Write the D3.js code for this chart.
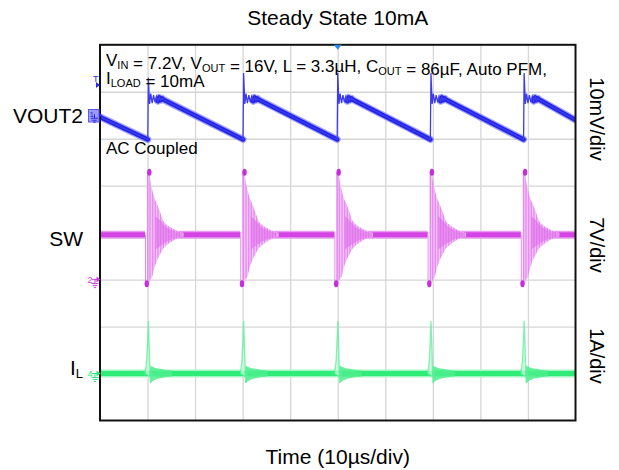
<!DOCTYPE html>
<html><head><meta charset="utf-8">
<script src="https://cdn.jsdelivr.net/npm/d3@7"></script>
<style>body{margin:0;background:#fff}svg{display:block;font-family:"Liberation Sans",Arial,sans-serif}</style>
</head><body><svg id="c" width="619" height="470"></svg>
<script>
// ---------- data ----------
const chartTitle = "Steady State 10mA";
const xTitle = "Time (10µs/div)";
const timeDomain = [0, 100];                 // µs (10 µs/div)
const xGridTimes = [10, 20, 30, 40, 50, 60, 70, 80, 90];
const yGridDivs = [1, 2, 3, 4, 5, 6, 7];
const channelNames = ["VOUT2", "SW", "I"];
const channelScaleLabels = ["10mV/div", "7V/div", "1A/div"];
const channelOffsetDiv = [6.5, 3, 1];        // ground / reference marker, in divisions
const channelPerDiv = [10, 7, 1];            // mV, V, A per division

// switching events (µs)
const eventTimes = [10.17, 30.2, 50.0, 69.6, 89.2];

// VOUT2 (mV, AC coupled)
const voutStart = -0.36, voutEnd = -1.0;
const voutPeaks = [8.0, 9.0, 9.0, 9.0, 9.0];
const voutRingDt = [-0.12, 0, 0.25, 0.5, 0.8, 1.1, 1.4, 1.7, 2.0, 2.3, 2.6, 2.9, 3.2];
const voutRingMv = [-5.16, null, 2.4, 4.6, 2.6, 4.3, 2.8, 4.0, 3.0, 3.8, 3.2, 3.6, 3.3];
const voutThickFromDt = 1.9;                 // ringing drawn thin before this

// SW (V)
const swBase = 6.7, swLow = -0.6, swHigh = 16.0;
const swEnvDt = [-0.3, 0.2, 0.4, 0.75, 1.2, 1.8, 2.5, 3.1, 4.0, 5.2, 6.3, 7.4];
const swEnvUp = [16.0, 16.0, 14.8, 13.6, 12.3, 11.3, 10.0, 8.8, 8.1, 7.6, 7.2, 7.0];
const swEnvLo = [-0.6, -0.5, 0.0, 0.3, 1.6, 2.8, 3.8, 4.6, 5.2, 5.8, 6.2, 6.4];
const swCoreDt = [1.5, 2.5, 3.5, 5.0, 7.0];
const swCoreUp = [9.5, 8.8, 8.0, 7.4, 7.0];
const swCoreLo = [4.5, 5.0, 5.5, 6.0, 6.4];

// IL (A)
const ilSpikeDt = [-0.7, -0.35, -0.1, 0.0, 0.15, 0.35, 0.45, 0.6, 0.8];
const ilSpikeA  = [0, 0.25, 0.8, 1.12, 0.7, 0.0, -0.2, 0.12, -0.1];
const ilEnvDt = [0.4, 0.8, 1.5, 2.5, 3.5, 5.0];
const ilEnvUp = [0.17, 0.15, 0.12, 0.10, 0.08, 0.065];
const ilEnvLo = [-0.22, -0.17, -0.13, -0.10, -0.08, -0.065];

// ---------- drawing ----------
const svg = d3.select("#c");
const P = {l: 100, r: 575.5, t: 44.8, b: 420.5};
const x = d3.scaleLinear().domain(timeDomain).range([P.l, P.r]);
const yDiv = d3.scaleLinear().domain([0, 8]).range([P.b, P.t]);
const yCh = channelOffsetDiv.map((o, i) =>
  d3.scaleLinear().domain([-o * channelPerDiv[i], (8 - o) * channelPerDiv[i]]).range([P.b, P.t]));
const [yV, yS, yI] = yCh;

const defs = svg.append("defs");
const pat = defs.append("pattern").attr("id", "swHatch").attr("patternUnits", "userSpaceOnUse")
  .attr("width", 1.6).attr("height", 4);
pat.append("rect").attr("width", 1.6).attr("height", 4).attr("fill", "#f6c8f9");
pat.append("rect").attr("width", 0.7).attr("height", 4).attr("fill", "#e07cec");
defs.append("clipPath").attr("id", "clip").append("rect")
  .attr("x", P.l).attr("y", P.t).attr("width", P.r - P.l).attr("height", P.b - P.t);

// grid via axes
const gx = svg.append("g").attr("transform", `translate(0,${P.b})`)
  .call(d3.axisBottom(x).tickValues(xGridTimes).tickSize(-(P.b - P.t)).tickFormat(""));
const gy = svg.append("g").attr("transform", `translate(${P.l},0)`)
  .call(d3.axisLeft(yDiv).tickValues(yGridDivs).tickSize(-(P.r - P.l)).tickFormat(""));
[gx, gy].forEach(g => { g.select(".domain").remove();
  g.selectAll("line").attr("stroke", "#d6d6d6").attr("stroke-width", 1.3); });

const plot = svg.append("g").attr("clip-path", "url(#clip)");

// ---- SW ----
const swG = plot.append("g");
const swBaseSegs = [];
let segStart = 0;
eventTimes.forEach(te => { swBaseSegs.push([segStart, te - 0.7]); segStart = te + 1.0; });
swBaseSegs.push([segStart, 100]);
swBaseSegs.forEach(s => {
  swG.append("line").attr("x1", x(s[0])).attr("x2", x(s[1])).attr("y1", yS(swBase)).attr("y2", yS(swBase))
    .attr("stroke", "#e79cf0").attr("stroke-width", 8);
  swG.append("line").attr("x1", x(s[0])).attr("x2", x(s[1])).attr("y1", yS(swBase)).attr("y2", yS(swBase))
    .attr("stroke", "#d444e4").attr("stroke-width", 5);
});
const swArea = d3.area().x(d => x(d.t)).y0(d => yS(d.lo)).y1(d => yS(d.up)).curve(d3.curveMonotoneX);
eventTimes.forEach(te => {
  const env = swEnvDt.map((dt, i) => ({t: te + dt, up: swEnvUp[i], lo: swEnvLo[i]}));
  swG.append("path").attr("d", swArea(env)).attr("fill", "url(#swHatch)");
  const core = swCoreDt.map((dt, i) => ({t: te + dt, up: swCoreUp[i], lo: swCoreLo[i]}));
  swG.append("path").attr("d", swArea(core)).attr("fill", "#dd66ea").attr("opacity", 0.55);
  swG.append("line").attr("x1", x(te - 0.6)).attr("x2", x(te - 0.6)).attr("y1", yS(swBase)).attr("y2", yS(swLow))
    .attr("stroke", "#e38cee").attr("stroke-width", 1);
  swG.append("line").attr("x1", x(te - 0.1)).attr("x2", x(te - 0.1)).attr("y1", yS(swLow)).attr("y2", yS(swHigh))
    .attr("stroke", "#e38cee").attr("stroke-width", 1);
  swG.append("ellipse").attr("cx", x(te - 0.34)).attr("cy", yS(swLow)).attr("rx", 2.2).attr("ry", 3.5).attr("fill", "#c82ddc");
  swG.append("ellipse").attr("cx", x(te + 0.2)).attr("cy", yS(swHigh)).attr("rx", 2.2).attr("ry", 3.5).attr("fill", "#c82ddc");
});

// ---- IL ----
const ilG = plot.append("g");
ilG.append("line").attr("x1", x(0)).attr("x2", x(100)).attr("y1", yI(0)).attr("y2", yI(0))
  .attr("stroke", "#a3f6c3").attr("stroke-width", 8);
ilG.append("line").attr("x1", x(0)).attr("x2", x(100)).attr("y1", yI(0)).attr("y2", yI(0))
  .attr("stroke", "#2fec78").attr("stroke-width", 5);
const ilArea = d3.area().x(d => x(d.t)).y0(d => yI(d.lo)).y1(d => yI(d.up)).curve(d3.curveMonotoneX);
const ilLine = d3.line().x(d => x(d.t)).y(d => yI(d.a));
eventTimes.forEach(te => {
  const env = ilEnvDt.map((dt, i) => ({t: te + dt, up: ilEnvUp[i], lo: ilEnvLo[i]}));
  ilG.append("path").attr("d", ilArea(env)).attr("fill", "#4cee8c").attr("opacity", 0.85);
  const sp = ilSpikeDt.map((dt, i) => ({t: te + dt, a: ilSpikeA[i]}));
  ilG.append("path").attr("d", ilLine(sp) + "Z").attr("fill", "#c4f9d8").attr("opacity", 0.8)
    .attr("stroke", "#5ef09c").attr("stroke-width", 1.3);
});

// ---- VOUT2 ----
const voutPts = [{t: 0, v: voutStart, thin: false}];
eventTimes.forEach((te, i) => {
  voutRingDt.forEach((dt, j) => {
    voutPts.push({t: te + dt, v: j === 1 ? voutPeaks[i] : voutRingMv[j],
                  thin: dt >= 0 && dt < voutThickFromDt});
  });
});
voutPts.push({t: 100, v: voutEnd, thin: false});
const vThin = d3.line().x(d => x(d.t)).y(d => yV(d.v));
const vThick = d3.line().defined(d => !d.thin).x(d => x(d.t)).y(d => yV(d.v));
const vG = plot.append("g");
vG.append("path").attr("d", vThick(voutPts)).attr("fill", "none").attr("stroke", "#8c8cf6")
  .attr("stroke-width", 7).attr("stroke-linejoin", "round").attr("stroke-linecap", "round").attr("opacity", 0.8);
vG.append("path").attr("d", vThick(voutPts)).attr("fill", "none").attr("stroke", "#2424e6")
  .attr("stroke-width", 4.5).attr("stroke-linejoin", "round").attr("stroke-linecap", "round");
vG.append("path").attr("d", vThin(voutPts)).attr("fill", "none").attr("stroke", "#3c3cee").attr("stroke-width", 1.3);

// ---- frame ----
svg.append("rect").attr("x", P.l).attr("y", P.t).attr("width", P.r - P.l).attr("height", P.b - P.t)
  .attr("fill", "none").attr("stroke", "#111").attr("stroke-width", 2);

// ---- annotation ----
const ann = svg.append("text").attr("x", 106).attr("y", 66).attr("font-size", 17).attr("fill", "#000");
const sub = (t, parts) => parts.forEach(p => {
  if (p.s) { t.append("tspan").attr("font-size", 11).attr("dy", 3).text(p.s);
             t.append("tspan").attr("dy", -3).text(""); }
  else t.append("tspan").text(p.n);
});
sub(ann, [{n: "V"}, {s: "IN"}, {n: " = 7.2V, V"}, {s: "OUT"}, {n: " = 16V, L = 3.3µH, C"}, {s: "OUT"}, {n: " = 86µF, Auto PFM,"}]);
const ann2 = svg.append("text").attr("x", 106).attr("y", 84).attr("font-size", 17);
sub(ann2, [{n: "I"}, {s: "LOAD"}, {n: " = 10mA"}]);
svg.append("text").attr("x", 106).attr("y", 154).attr("font-size", 17).text("AC Coupled");

// titles
svg.append("text").attr("x", (P.l + P.r) / 2).attr("y", 25).attr("text-anchor", "middle")
  .attr("font-size", 21).text(chartTitle);
svg.append("text").attr("x", (P.l + P.r) / 2).attr("y", 464).attr("text-anchor", "middle")
  .attr("font-size", 21).text(xTitle);

// channel labels
const labelY = [123, 246, 375];
channelNames.forEach((n, i) => {
  const t = svg.append("text").attr("x", 83).attr("y", labelY[i]).attr("text-anchor", "end").attr("font-size", 21);
  t.append("tspan").text(n);
  if (n === "I") t.append("tspan").attr("font-size", 13).attr("dy", 3).text("L");
});
const rightY = [119, 245, 356];
channelScaleLabels.forEach((s, i) => {
  svg.append("text").attr("transform", `translate(597,${rightY[i]}) rotate(90)`)
    .attr("text-anchor", "middle").attr("dominant-baseline", "central").attr("font-size", 20).text(s);
});

// ---- markers ----
function ground(g, cx, cy, col) {
  g.append("path").attr("d", `M${cx},${cy} v4 M${cx - 3.5},${cy + 4} h7 M${cx - 2.3},${cy + 6} h4.6 M${cx - 1.2},${cy + 8} h2.4`)
    .attr("stroke", col).attr("stroke-width", 1).attr("fill", "none");
}
const mk = svg.append("g");
// trigger level
mk.append("text").attr("x", 93).attr("y", 82).attr("font-size", 9).attr("fill", "#2a2ae8").text("T");
mk.append("path").attr("d", "M96,82 L100,85 L96,88 Z").attr("fill", "#2a2ae8");
// channel 1
mk.append("rect").attr("x", 88.5).attr("y", 109.5).attr("width", 10.5).attr("height", 12.5)
  .attr("fill", "#9a9aff").attr("stroke", "#5a5af5").attr("stroke-width", 1);
mk.append("text").attr("x", 89.5).attr("y", 117).attr("font-size", 8).attr("fill", "#2a2ae8").text("1");
ground(mk, 94.5, yV(0) - 1, "#2a2ae8");
mk.append("path").attr("d", `M99,${yV(0) - 3} L102,${yV(0)} L99,${yV(0) + 3} Z`).attr("fill", "#2a2ae8");
// channel 2 & 4
[[yS(0), "#c93adb", "2"], [yI(0), "#2fe37a", "4"]].forEach(([yy, col, lab]) => {
  mk.append("text").attr("x", 87.5).attr("y", yy + 3).attr("font-size", 9).attr("fill", col).text(lab);
  ground(mk, 95, yy, col);
  mk.append("path").attr("d", `M96.5,${yy - 3} L100.5,${yy} L96.5,${yy + 3} Z`).attr("fill", col);
  mk.append("line").attr("x1", 92).attr("x2", 97).attr("y1", yy).attr("y2", yy).attr("stroke", col);
});
// trigger position
mk.append("path").attr("d", `M${x(50) - 4},${P.t} L${x(50) + 4},${P.t} L${x(50)},${P.t + 5} Z`).attr("fill", "#2a8ae8");
</script></body></html>
